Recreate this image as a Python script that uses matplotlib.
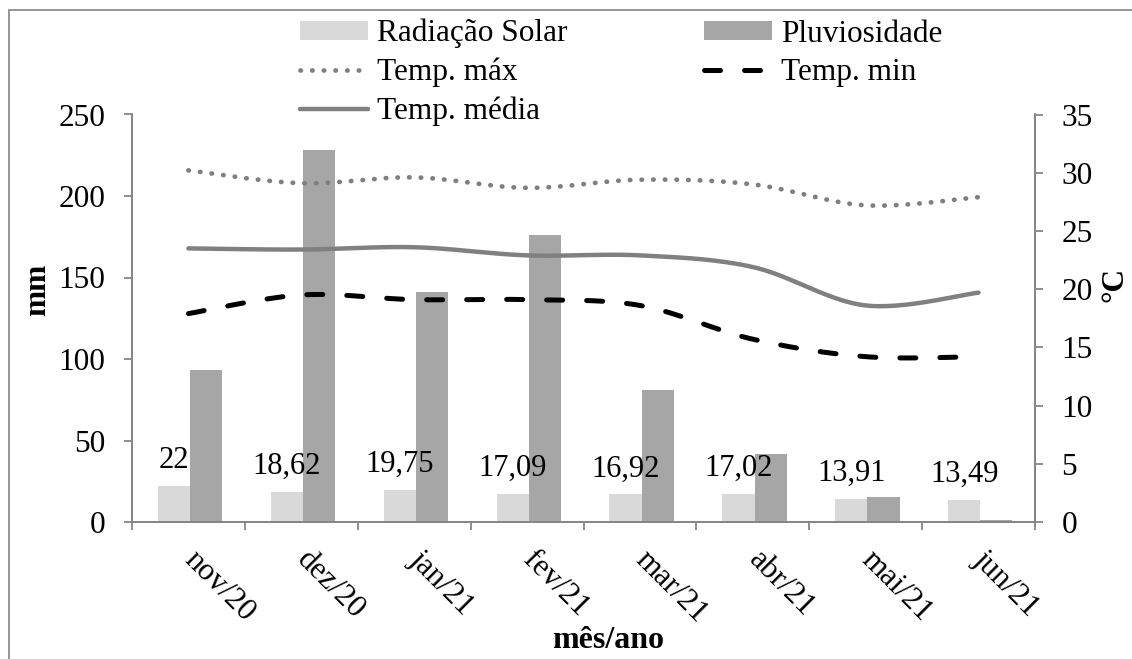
import numpy as np
import matplotlib
matplotlib.use("Agg")
import matplotlib.pyplot as plt
from matplotlib.patches import Rectangle, Patch

# --- data -------------------------------------------------------------
months = ["nov/20", "dez/20", "jan/21", "fev/21", "mar/21", "abr/21", "mai/21", "jun/21"]
radiacao = [22.0, 18.62, 19.75, 17.09, 16.92, 17.02, 13.91, 13.49]
radiacao_labels = ["22", "18,62", "19,75", "17,09", "16,92", "17,02", "13,91", "13,49"]
pluviosidade = [93.0, 228.0, 141.0, 176.0, 81.0, 42.0, 15.5, 1.2]
temp_max = [30.2, 29.1, 29.6, 28.7, 29.4, 29.0, 27.2, 27.9]
temp_min = [17.9, 19.5, 19.1, 19.1, 18.6, 15.7, 14.2, 14.2]
temp_media = [23.5, 23.4, 23.6, 22.9, 22.9, 21.9, 18.6, 19.7]

plt.rcParams["font.family"] = ["Liberation Serif", "DejaVu Serif"]
plt.rcParams["lines.scale_dashes"] = False

FS = 22.5
W, H = 1132, 659
fig = plt.figure(figsize=(W / 100, H / 100), dpi=100)

# chart-area border
fig.patches.append(Rectangle((9 / W, -0.2), 2.0, 1.2 - 10 / H,
                             transform=fig.transFigure, fill=False,
                             edgecolor="#8c8c8c", linewidth=1.3))

ax = fig.add_axes([132 / W, 1 - 522 / H, (1035 - 132) / W, (522 - 114.5) / H])
ax2 = ax.twinx()

x = np.arange(len(months))
bw = 0.285
shift = 0.015
c_rad = "#d9d9d9"
c_pluv = "#a6a6a6"
ax.bar(x - bw / 2 + shift, radiacao, width=bw, color=c_rad, zorder=2)
ax.bar(x + bw / 2 + shift, pluviosidade, width=bw, color=c_pluv, zorder=2)

# value labels above the radiation bars
for xi, v, lab in zip(x, radiacao, radiacao_labels):
    ax.annotate(lab, (xi - bw / 2 + shift, v), xytext=(0, 18),
                textcoords="offset pixels", ha="center", va="baseline",
                fontsize=22)


def smooth(xs, ys, n=30):
    """Smoothed curve through the points (cubic Bezier, Catmull-Rom tangents)."""
    xs = np.asarray(xs, float)
    ys = np.asarray(ys, float)
    px = np.concatenate([[xs[0]], xs, [xs[-1]]])
    py = np.concatenate([[ys[0]], ys, [ys[-1]]])
    outx, outy = [], []
    for i in range(1, len(px) - 2):
        p0 = np.array([px[i - 1], py[i - 1]])
        p1 = np.array([px[i], py[i]])
        p2 = np.array([px[i + 1], py[i + 1]])
        p3 = np.array([px[i + 2], py[i + 2]])
        c1 = p1 + (p2 - p0) / 6
        c2 = p2 - (p3 - p1) / 6
        t = np.linspace(0, 1, n)[:, None]
        pts = ((1 - t) ** 3) * p1 + 3 * ((1 - t) ** 2) * t * c1 \
            + 3 * (1 - t) * t ** 2 * c2 + t ** 3 * p2
        if i > 1:
            pts = pts[1:]
        outx.extend(pts[:, 0])
        outy.extend(pts[:, 1])
    return np.array(outx), np.array(outy)


sx, sy = smooth(x, temp_max)
l_max, = ax2.plot(sx, sy, color="#7f7f7f", lw=3.4, dashes=(0.3, 8.1),
                  dash_capstyle="round", zorder=3)
sx, sy = smooth(x, temp_min)
l_min, = ax2.plot(sx, sy, color="black", lw=3.6, dashes=(11.5, 17.3),
                  dash_capstyle="round", zorder=3)
sx, sy = smooth(x, temp_media)
l_med, = ax2.plot(sx, sy, color="#808080", lw=3.2, solid_capstyle="round", zorder=3)

ax.set_xlim(-0.5, len(months) - 0.5)
ax.set_ylim(0, 250)
ax2.set_ylim(0, 35)
ax.set_yticks(np.arange(0, 251, 50))
ax2.set_yticks(np.arange(0, 36, 5))

ax.set_xticks(np.arange(-0.5, len(months), 1.0))
ax.set_xticklabels([])
ax.set_xticks(x, minor=True)
ax.set_xticklabels(months, minor=True, rotation=-45, ha="left", va="center",
                   rotation_mode="anchor", fontsize=FS)
ax.tick_params(axis="x", which="minor", length=0, pad=24)

axis_col = "#868686"
for a in (ax, ax2):
    a.spines["top"].set_visible(False)
    for s in ("left", "right", "bottom"):
        a.spines[s].set_color(axis_col)
        a.spines[s].set_linewidth(1.3)
ax.tick_params(axis="x", which="major", length=5.5, color=axis_col, width=1.3)
ax.tick_params(axis="y", length=5.5, color=axis_col, width=1.3, labelsize=FS, pad=13.5)
ax2.tick_params(axis="y", length=5.5, color=axis_col, width=1.3, labelsize=FS, pad=13.5)

# axis titles
fig.text(38 / W, 1 - 290 / H, "mm", fontsize=FS, fontweight="bold",
         rotation=90, ha="center", va="center")
fig.text(1115 / W, 1 - 285 / H, "°C", fontsize=FS, fontweight="bold",
         rotation=90, ha="center", va="center")
fig.text(608 / W, 1 - 641 / H, "mês/ano", fontsize=23, fontweight="bold",
         ha="center", va="center")

# legend laid out in two columns, filled row by row
h_rad = Patch(facecolor=c_rad)
h_pluv = Patch(facecolor=c_pluv)
leg = fig.legend([h_rad, l_max, l_med, h_pluv, l_min],
                 ["Radiação Solar", "Temp. máx", "Temp. média", "Pluviosidade", "Temp. min"],
                 ncol=2, loc="upper left", bbox_to_anchor=(300 / W, 1 - 19 / H),
                 frameon=False, fontsize=FS, handlelength=2.18, handleheight=0.55,
                 handletextpad=0.29, columnspacing=4.35, labelspacing=0.3,
                 borderpad=0, borderaxespad=0)

fig.savefig("out.png", dpi=100)
